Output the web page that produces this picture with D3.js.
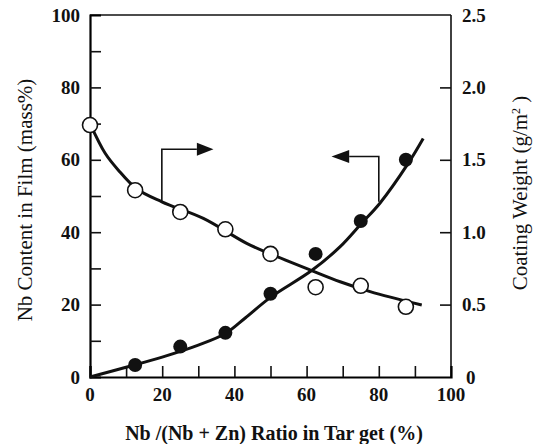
<!DOCTYPE html>
<html>
<head>
<meta charset="utf-8">
<script src="https://cdn.jsdelivr.net/npm/d3@7"></script>
<style>
  body { margin: 0; background: #fff; }
  svg text { font-family: "Liberation Serif", "Times New Roman", serif; fill: #111; }
</style>
</head>
<body>
<div id="graph"></div>
<script>
// target ratio (%)
var ratio = [12.5, 25, 37.5, 50, 62.5, 75, 87.5]
// Nb content in film (mass%), filled circles, left axis
var nbContent = [3.3, 8.4, 12.2, 23, 34, 43.1, 60]
// coating weight (g/m2), open circles, right axis
var wRatio = [0, 12.5, 25, 37.5, 50, 62.5, 75, 87.5]
var coatWeight = [1.74, 1.29, 1.14, 1.02, 0.85, 0.62, 0.63, 0.485]

// fitted curves
var nbCurveX = [0, 10, 20, 30, 37.5, 43, 50, 61.4, 69.3, 75, 80.3, 88, 92.3]
var nbCurveY = [0, 2.7, 5.5, 8.8, 12, 16.3, 22, 29.4, 36, 42.2, 48, 58.8, 65.9]
var cwCurveX = [0, 4.2, 7.8, 12.9, 19.9, 31.4, 43.4, 50, 61.4, 69.3, 77.6, 91.9]
var cwCurveY = [1.75, 1.545, 1.43, 1.3, 1.21, 1.095, 0.923, 0.85, 0.735, 0.658, 0.59, 0.4975]

var xTicks = [0, 20, 40, 60, 80, 100]
var leftTicks = [0, 20, 40, 60, 80, 100]
var rightTicks = [0, 0.5, 1.0, 1.5, 2.0, 2.5]

// arrows: [x of stem, y bottom, y top, x tail end, x tip] in data units (left axis y)
var arrowOpen = [19.9, 48.4, 62.9, 29.6, 34.2]
var arrowFilled = [80, 48.4, 60.9, 71.8, 66.9]

var width = 534, height = 444
var m = {left: 90, right: 83, top: 15, bottom: 67}
var serif = '"Liberation Serif", "Times New Roman", serif'

var svg = d3.select('#graph').append('svg')
  .attr('width', width).attr('height', height)

var x = d3.scaleLinear().domain([0, 100]).range([m.left, width - m.right])
var yL = d3.scaleLinear().domain([0, 100]).range([height - m.bottom, m.top])
var yR = d3.scaleLinear().domain([0, 2.5]).range([height - m.bottom, m.top])

// frame
svg.append('path')
  .attr('d', 'M' + x(0) + ',' + yL(100) + 'H' + x(100))
  .attr('stroke', '#111').attr('stroke-width', 1.5).attr('fill', 'none')
svg.append('path')
  .attr('d', 'M' + x(100) + ',' + yL(100) + 'V' + yL(0))
  .attr('stroke', '#111').attr('stroke-width', 1.6).attr('fill', 'none')

// axes with inward ticks
var bottomAxis = d3.axisTop(x).tickValues(d3.range(0, 100, 10)).tickSize(11).tickFormat('')
svg.append('g').attr('transform', 'translate(0,' + yL(0) + ')').call(bottomAxis)
  .call(g => g.select('.domain').attr('stroke-width', 2.2))

svg.append('g').selectAll('text').data(xTicks).join('text')
  .attr('x', d => x(d)).attr('y', yL(0) + 24)
  .attr('text-anchor', 'middle')
  .style('font-family', serif).style('font-size', '19px').style('font-weight', 'bold')
  .text(d => d)

var leftAxis = d3.axisRight(yL).tickValues(d3.range(10, 100, 10)).tickSize(11).tickFormat('')
svg.append('g').attr('transform', 'translate(' + x(0) + ',0)').call(leftAxis)
  .call(g => g.select('.domain').attr('stroke-width', 2.2))

svg.append('g').selectAll('text').data(leftTicks).join('text')
  .attr('x', x(0) - 10).attr('y', d => yL(d)).attr('dy', '0.35em')
  .attr('text-anchor', 'end')
  .style('font-family', serif).style('font-size', '19px').style('font-weight', 'bold')
  .text(d => d)

var rightAxis = d3.axisLeft(yR).tickValues([0.5, 1.0, 1.5, 2.0]).tickSize(11).tickFormat('')
svg.append('g').attr('transform', 'translate(' + x(100) + ',0)').call(rightAxis)
  .call(g => g.select('.domain').remove())

svg.append('g').selectAll('text').data(rightTicks).join('text')
  .attr('x', d => d == 0 ? x(100) + 15 : x(100) + 11).attr('y', d => yR(d)).attr('dy', '0.35em')
  .attr('text-anchor', 'start')
  .style('font-family', serif).style('font-size', '19px').style('font-weight', 'bold')
  .text(d => d == 0 ? '0' : d3.format('.1f')(d))

svg.selectAll('.tick line').attr('stroke', '#111').attr('stroke-width', 1.6)

// axis titles
svg.append('text')
  .attr('x', 274).attr('y', 440)
  .attr('text-anchor', 'middle')
  .style('font-family', serif).style('font-size', '20px').style('font-weight', 'bold')
  .text('Nb /(Nb + Zn) Ratio in Tar get (%)')

svg.append('text')
  .attr('transform', 'translate(32,200) rotate(-90)')
  .attr('text-anchor', 'middle')
  .style('font-family', serif).style('font-size', '21px')
  .text('Nb Content in Film (mass%)')

svg.append('text')
  .attr('transform', 'translate(527,193) rotate(-90)')
  .attr('text-anchor', 'middle')
  .style('font-family', serif).style('font-size', '21px')
  .html('Coating Weight (g/m<tspan dy="-7" style="font-size:12px">2</tspan><tspan dy="7"> )</tspan>')

// curves
var nbLine = d3.line().x(d => x(d[0])).y(d => yL(d[1])).curve(d3.curveCatmullRom)
var cwLine = d3.line().x(d => x(d[0])).y(d => yR(d[1])).curve(d3.curveCatmullRom)

svg.append('path')
  .attr('d', nbLine(d3.zip(nbCurveX, nbCurveY)))
  .attr('fill', 'none').attr('stroke', '#111').attr('stroke-width', 3)

svg.append('path')
  .attr('d', cwLine(d3.zip(cwCurveX, cwCurveY)))
  .attr('fill', 'none').attr('stroke', '#111').attr('stroke-width', 3)

// arrows
function drawArrow(a){
  svg.append('path')
    .attr('d', 'M' + x(a[0]) + ',' + yL(a[1]) + 'V' + yL(a[2]) + 'H' + x(a[3]))
    .attr('fill', 'none').attr('stroke', '#111').attr('stroke-width', 1.6)
  var h = 6.5
  svg.append('path')
    .attr('d', 'M' + x(a[3]) + ',' + (yL(a[2]) - h) + 'L' + x(a[4]) + ',' + yL(a[2]) +
      'L' + x(a[3]) + ',' + (yL(a[2]) + h) + 'Z')
    .attr('fill', '#111')
}
drawArrow(arrowOpen)
drawArrow(arrowFilled)

// markers
svg.append('g').selectAll('circle').data(d3.zip(ratio, nbContent)).join('circle')
  .attr('cx', d => x(d[0])).attr('cy', d => yL(d[1])).attr('r', 7)
  .attr('fill', '#111')

svg.append('g').selectAll('circle').data(d3.zip(wRatio, coatWeight)).join('circle')
  .attr('cx', d => x(d[0])).attr('cy', d => yR(d[1])).attr('r', 7.5)
  .attr('fill', '#fff').attr('stroke', '#111').attr('stroke-width', 1.6)
</script>
</body>
</html>
